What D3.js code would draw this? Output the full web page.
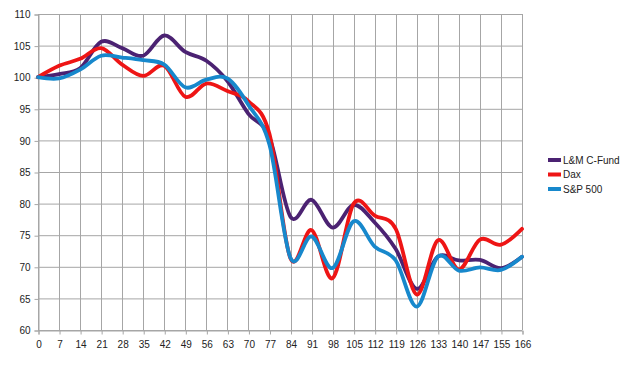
<!DOCTYPE html>
<html><head><meta charset="utf-8">
<script src="https://cdn.jsdelivr.net/npm/d3@7"></script>
<style>body{margin:0;background:#fff;}svg{display:block;font-family:"Liberation Sans",Arial,sans-serif;}</style>
</head><body>
<svg id="c" width="641" height="367"></svg>
<script>
const categories = ["0","7","14","21","28","35","42","49","56","63","70","77","84","91","98","105","112","119","126","133","140","147","155","166"];
const lmFund = [100,100.5,101.4,105.6,104.6,103.4,106.6,104.0,102.6,99.4,94.2,90.5,77.9,80.6,76.2,79.8,77.0,72.8,66.5,71.6,71.0,71.1,69.8,71.6];
const dax    = [100,101.8,102.9,104.6,102.0,100.2,101.8,96.9,99.0,97.8,96.2,91.0,71.3,75.8,68.2,80.0,78.1,76.0,65.6,74.2,69.6,74.3,73.5,76.0];
const sp500  = [100,99.8,101.2,103.4,103.1,102.7,102.0,98.4,99.6,99.8,95.6,89.3,71.4,74.8,69.8,77.2,73.2,71.0,63.7,71.6,69.4,69.9,69.5,71.6];
const yTicks = [60,65,70,75,80,85,90,95,100,105,110];
const seriesNames = ["L&M C-Fund","Dax","S&P 500"];
const seriesColors = ["#4b2272","#ee1515","#1788cc"];
const seriesData = [lmFund, dax, sp500];

const svg = d3.select("#c");
const x = d3.scalePoint().domain(categories).range([38,522]);
const y = d3.scaleLinear().domain([60,110]).range([330,14]);

const grid = svg.append("g");
grid.selectAll("line.h").data(yTicks).join("line")
  .attr("x1",38).attr("x2",522).attr("y1",d=>y(d)+0.5).attr("y2",d=>y(d)+0.5)
  .attr("stroke","#a6a6a6").attr("stroke-width",1);
grid.selectAll("line.v").data(categories).join("line")
  .attr("class","v")
  .attr("x1",d=>Math.round(x(d))+0.5).attr("x2",d=>Math.round(x(d))+0.5).attr("y1",14).attr("y2",330)
  .attr("stroke","#a6a6a6").attr("stroke-width",1);

const yAxis = d3.axisLeft(y).tickValues(yTicks).tickSize(4).tickPadding(4);
const gy = svg.append("g").attr("transform","translate(38.5,0.5)").call(yAxis);
gy.select(".domain").attr("stroke","#a6a6a6");
gy.selectAll(".tick line").attr("stroke","#a6a6a6");
gy.selectAll("text").attr("font-size","10px").attr("fill","#222").attr("font-family","Liberation Sans, Arial, sans-serif");

const xAxis = d3.axisBottom(x).tickSize(4).tickPadding(6);
const gx = svg.append("g").attr("transform","translate(0.5,330.5)").call(xAxis);
gx.select(".domain").attr("stroke","#a6a6a6");
gx.selectAll(".tick line").attr("stroke","#a6a6a6");
gx.selectAll("text").attr("font-size","10px").attr("fill","#222").attr("font-family","Liberation Sans, Arial, sans-serif");

const line = d3.line().x((d,i)=>x(categories[i])).y(d=>y(d)).curve(d3.curveCardinal.tension(0));
svg.append("g").selectAll("path").data(seriesData).join("path")
  .attr("d",d=>line(d)).attr("fill","none")
  .attr("stroke",(d,i)=>seriesColors[i]).attr("stroke-width",3.8)
  .attr("stroke-linejoin","round").attr("stroke-linecap","round");

const lg = svg.append("g");
seriesNames.forEach((n,i)=>{
  const yy = 160 + i*14.5;
  lg.append("rect").attr("x",548).attr("y",yy-2).attr("width",13).attr("height",4).attr("fill",seriesColors[i]);
  lg.append("text").attr("x",563).attr("y",yy+3.5).attr("font-size","10px").attr("fill","#222").text(n);
});
</script>
</body></html>
